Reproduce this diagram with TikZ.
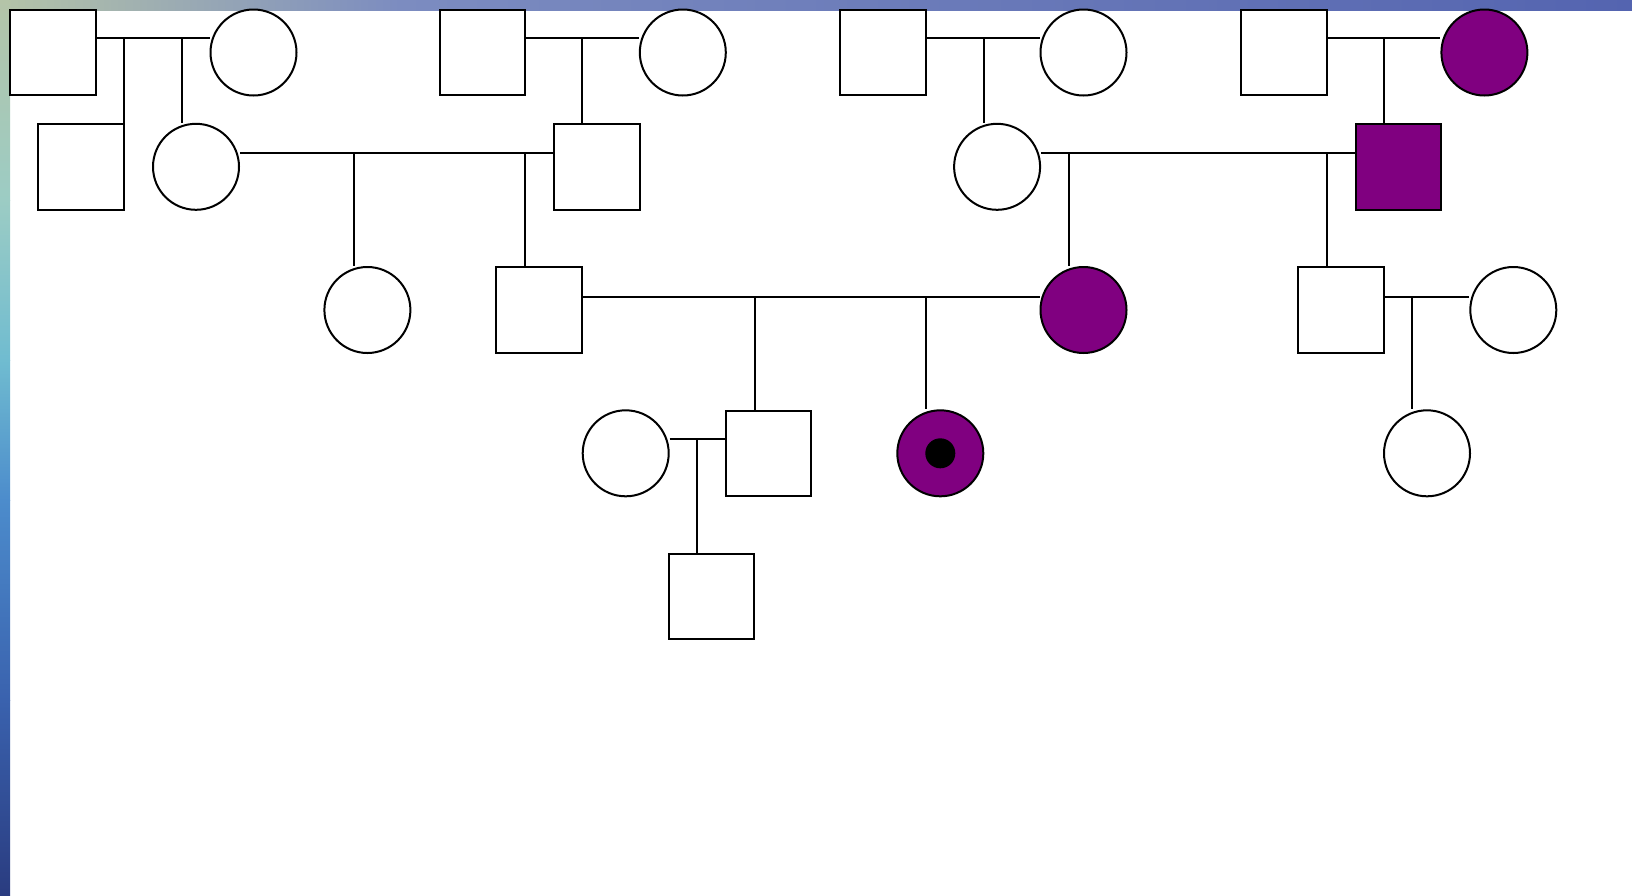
\documentclass[tikz,border=0pt]{standalone}
\usetikzlibrary{backgrounds}
\definecolor{aff}{HTML}{800080}
\definecolor{sA}{HTML}{B4C4A8}
\definecolor{sB}{HTML}{9CCCC4}
\definecolor{sC}{HTML}{70BCD0}
\definecolor{sD}{HTML}{4C8CCC}
\definecolor{sE}{HTML}{3A62AE}
\definecolor{sF}{HTML}{2A3C80}
\definecolor{tA}{HTML}{7C8CC0}
\definecolor{tB}{HTML}{5464B0}
\begin{document}
\begin{tikzpicture}[x=1pt,y=-1pt,
  male/.style={draw=black,line width=2pt,fill=white,rectangle,minimum size=85.5pt,inner sep=0pt},
  female/.style={draw=black,line width=2pt,fill=white,circle,minimum size=86pt,inner sep=0pt},
  affected/.style={fill=aff},
  link/.style={draw=black,line width=2pt},
  dot/.style={circle,fill=black,minimum size=30pt,inner sep=0pt}]
\useasboundingbox (0,0) rectangle (1632,895);
% generation I
\node[male]   (A) at (53,52.5) {};
\node[female] (B) at (253.5,52.5) {};
\node[male]   (C) at (482.4,52.5) {};
\node[female] (D) at (682.8,52.5) {};
\node[male]   (E) at (883.1,52.5) {};
\node[female] (F) at (1083.5,52.5) {};
\node[male]   (G) at (1284,52.5) {};
\node[female,affected] (H) at (1484.4,52.5) {};
% generation II
\node[male]   (I) at (81,166.8) {};
\node[female] (J) at (196,166.8) {};
\node[male]   (K) at (596.9,166.8) {};
\node[female] (L) at (997.1,166.8) {};
\node[male,affected] (M) at (1398.5,166.8) {};
% generation III
\node[female] (N) at (367.4,310) {};
\node[male]   (O) at (539.1,310) {};
\node[female,affected] (P) at (1083.5,310) {};
\node[male]   (Q) at (1341.1,310) {};
\node[female] (R) at (1513.3,310) {};
% generation IV
\node[female] (V) at (625.7,453.3) {};
\node[male]   (S) at (768.7,453.3) {};
\node[female,affected] (T) at (940.3,453.3) {};
\node[dot] (Tdot) at (T.center) {};
\node[female] (U) at (1427,453.3) {};
% generation V
\node[male]   (W) at (711.3,596.7) {};
% drop points
\coordinate (dA1) at (124.3,38.3);
\coordinate (dA2) at (181.7,38.3);
\coordinate (dC)  at (581.8,38.3);
\coordinate (dE)  at (983.6,38.3);
\coordinate (dG)  at (1384,38.3);
\coordinate (dJ1) at (353.7,153.3);
\coordinate (dJ2) at (524.6,153.3);
\coordinate (dL1) at (1068.9,153.3);
\coordinate (dL2) at (1327,153.3);
\coordinate (dO1) at (754.7,296.6);
\coordinate (dO2) at (926.3,296.6);
\coordinate (dQ)  at (1412.4,296.6);
\coordinate (dV)  at (697,439.3);
\begin{scope}[on background layer]
\fill[white] (0,0) rectangle (1632,895);
% decorative strips
\shade[left color=sA,right color=tA] (0,0) rectangle (400,10);
\shade[left color=tA,right color=tB] (400,0) rectangle (1632,10);
\shade[top color=sA,bottom color=sB] (0,0) rectangle (10,200);
\shade[top color=sB,bottom color=sC] (0,200) rectangle (10,360);
\shade[top color=sC,bottom color=sD] (0,360) rectangle (10,500);
\shade[top color=sD,bottom color=sE] (0,500) rectangle (10,700);
\shade[top color=sE,bottom color=sF] (0,700) rectangle (10,895);
% marriage lines
\draw[link] (A.east |- dA1) -- (B.west |- dA1);
\draw[link] (C.east |- dC) -- (D.west |- dC);
\draw[link] (E.east |- dE) -- (F.west |- dE);
\draw[link] (G.east |- dG) -- (H.west |- dG);
\draw[link] (J.east |- dJ1) -- (K.west |- dJ1);
\draw[link] (L.east |- dL1) -- (M.west |- dL1);
\draw[link] (O.east |- dO1) -- (P.west |- dO1);
\draw[link] (Q.east |- dQ) -- (R.west |- dQ);
\draw[link] (V.east |- dV) -- (S.west |- dV);
% descent lines
\draw[link] (dA1) -- (dA1 |- I.north);
\draw[link] (dA2) -- (dA2 |- J.north);
\draw[link] (dC) -- (dC |- K.north);
\draw[link] (dE) -- (dE |- L.north);
\draw[link] (dG) -- (dG |- M.north);
\draw[link] (dJ1) -- (dJ1 |- N.north);
\draw[link] (dJ2) -- (dJ2 |- O.north);
\draw[link] (dL1) -- (dL1 |- P.north);
\draw[link] (dL2) -- (dL2 |- Q.north);
\draw[link] (dO1) -- (dO1 |- S.north);
\draw[link] (dO2) -- (dO2 |- T.north);
\draw[link] (dQ) -- (dQ |- U.north);
\draw[link] (dV) -- (dV |- W.north);
\end{scope}
\end{tikzpicture}
\end{document}
